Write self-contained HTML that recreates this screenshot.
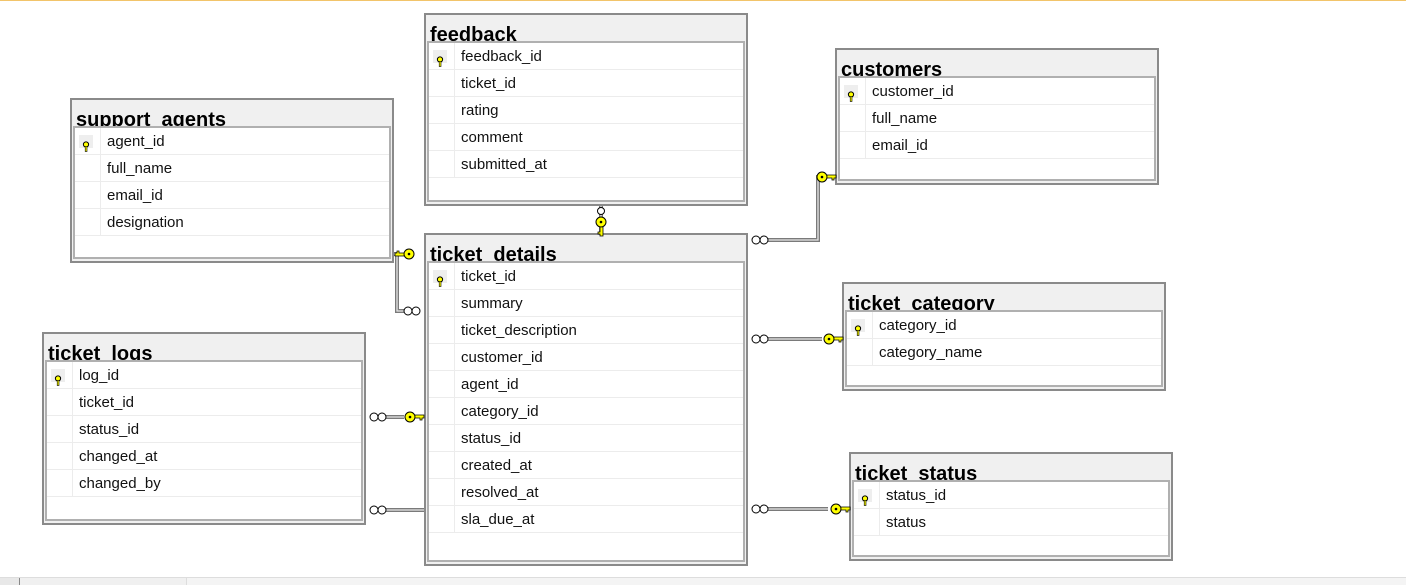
<!DOCTYPE html>
<html><head><meta charset="utf-8"><style>
body{margin:0;width:1406px;height:584px;background:#fff;position:relative;overflow:hidden;font-family:"Liberation Sans",sans-serif}
.t{position:absolute;border:2px solid #8a8a8a;background:#f0f0f0;box-sizing:border-box;overflow:hidden}
.ti{position:absolute;left:4px;top:9px;font-weight:bold;font-size:20px;line-height:22px;color:#000}
.in{position:absolute;left:1px;right:1px;top:26px;bottom:2px;background:#fff;border:2px solid #b0b0b0;box-sizing:border-box;overflow:hidden}
.r{height:26px;border-bottom:1px solid #ececec;position:relative;font-size:15px;line-height:28px;color:#111}
.r span{position:absolute;left:32px;top:0}
.r:before{content:"";position:absolute;left:25px;top:0;bottom:-1px;border-left:1px solid #ececec}
.k{position:absolute;left:4px;top:7px;width:14px;height:13px;background:#eee}
.top{position:absolute;left:0;top:0;width:1406px;height:1px;background:#f2c46a}
.bot{position:absolute;left:0;top:577px;width:1406px;height:7px;background:#f0f0f0;border-top:1px solid #ddd}
</style></head><body>
<div class="top"></div>
<svg width="0" height="0" style="position:absolute"><defs>
<g id="sk"><circle cx="7" cy="4.5" r="2.6" fill="#ff0" stroke="#000" stroke-width="1"/><rect x="6.2" y="6.5" width="1.8" height="5" fill="#ff0" stroke="#000" stroke-width=".6"/></g>
</defs></svg>

<div class="t" style="left:424px;top:13px;width:324px;height:193px"><div class="ti">feedback</div><div class="in">
<div class="r"><div class="k"><svg width="14" height="13"><use href="#sk"/></svg></div><span>feedback_id</span></div>
<div class="r"><span>ticket_id</span></div><div class="r"><span>rating</span></div><div class="r"><span>comment</span></div><div class="r"><span>submitted_at</span></div>
</div></div>

<div class="t" style="left:835px;top:48px;width:324px;height:137px"><div class="ti">customers</div><div class="in">
<div class="r"><div class="k"><svg width="14" height="13"><use href="#sk"/></svg></div><span>customer_id</span></div>
<div class="r"><span>full_name</span></div><div class="r"><span>email_id</span></div>
</div></div>

<div class="t" style="left:70px;top:98px;width:324px;height:165px"><div class="ti">support_agents</div><div class="in">
<div class="r"><div class="k"><svg width="14" height="13"><use href="#sk"/></svg></div><span>agent_id</span></div>
<div class="r"><span>full_name</span></div><div class="r"><span>email_id</span></div><div class="r"><span>designation</span></div>
</div></div>

<div class="t" style="left:424px;top:233px;width:324px;height:333px"><div class="ti">ticket_details</div><div class="in">
<div class="r"><div class="k"><svg width="14" height="13"><use href="#sk"/></svg></div><span>ticket_id</span></div>
<div class="r"><span>summary</span></div><div class="r"><span>ticket_description</span></div><div class="r"><span>customer_id</span></div><div class="r"><span>agent_id</span></div><div class="r"><span>category_id</span></div><div class="r"><span>status_id</span></div><div class="r"><span>created_at</span></div><div class="r"><span>resolved_at</span></div><div class="r"><span>sla_due_at</span></div>
</div></div>

<div class="t" style="left:842px;top:282px;width:324px;height:109px"><div class="ti">ticket_category</div><div class="in">
<div class="r"><div class="k"><svg width="14" height="13"><use href="#sk"/></svg></div><span>category_id</span></div>
<div class="r"><span>category_name</span></div>
</div></div>

<div class="t" style="left:42px;top:332px;width:324px;height:193px"><div class="ti">ticket_logs</div><div class="in">
<div class="r"><div class="k"><svg width="14" height="13"><use href="#sk"/></svg></div><span>log_id</span></div>
<div class="r"><span>ticket_id</span></div><div class="r"><span>status_id</span></div><div class="r"><span>changed_at</span></div><div class="r"><span>changed_by</span></div>
</div></div>

<div class="t" style="left:849px;top:452px;width:324px;height:109px"><div class="ti">ticket_status</div><div class="in">
<div class="r"><div class="k"><svg width="14" height="13"><use href="#sk"/></svg></div><span>status_id</span></div>
<div class="r"><span>status</span></div>
</div></div>

<svg width="1406" height="584" style="position:absolute;left:0;top:0">
<defs>
<g id="bk"><circle cx="0" cy="0" r="5" fill="#ff0" stroke="#000" stroke-width="1"/><circle cx="0" cy="0" r="1.3" fill="#000"/><path d="M5,-2 H14 V1 H12 V3 H10 V1 H5 Z" fill="#ff0" stroke="#000" stroke-width=".8"/></g>
<g id="cc"><circle cx="0" cy="0" r="4" fill="#fff" stroke="#000" stroke-width="1"/><circle cx="8" cy="0" r="4" fill="#fff" stroke="#000" stroke-width="1"/></g>
</defs>
<g fill="none" stroke-linejoin="miter">
<g stroke="#7a7a7a" stroke-width="4">
<path d="M601,206 V232"/>
<path d="M768,240 H818 V177 H826"/>
<path d="M394,254 H397 V311 H404"/>
<path d="M768,339 H822"/>
<path d="M386,417 H404"/>
<path d="M386,510 H424"/>
<path d="M766,509 H828"/>
</g>
<g stroke="#e6e6e6" stroke-width="1.3">
<path d="M601,206 V232"/>
<path d="M768,240 H818 V177 H826"/>
<path d="M394,254 H397 V311 H404"/>
<path d="M768,339 H822"/>
<path d="M386,417 H404"/>
<path d="M386,510 H424"/>
<path d="M766,509 H828"/>
</g>
</g>
<circle cx="601" cy="211" r="3.5" fill="#fff" stroke="#000"/>
<use href="#bk" transform="translate(601,222) rotate(90)"/>
<use href="#cc" transform="translate(756,240)"/>
<use href="#bk" transform="translate(822,177)"/>
<use href="#bk" transform="translate(409,254) rotate(180)"/>
<use href="#cc" transform="translate(408,311)"/>
<use href="#cc" transform="translate(756,339)"/>
<use href="#bk" transform="translate(829,339)"/>
<use href="#cc" transform="translate(374,417)"/>
<use href="#bk" transform="translate(410,417)"/>
<use href="#cc" transform="translate(374,510)"/>
<use href="#cc" transform="translate(756,509)"/>
<use href="#bk" transform="translate(836,509)"/>
</svg>
<div class="bot"><div style="position:absolute;left:0;top:0;width:19px;height:7px;background:#e8e8e8;border-right:1px solid #888"></div><div style="position:absolute;left:186px;top:0;right:0;height:7px;background:#f4f4f4;border-left:1px solid #ddd"></div></div>
</body></html>
